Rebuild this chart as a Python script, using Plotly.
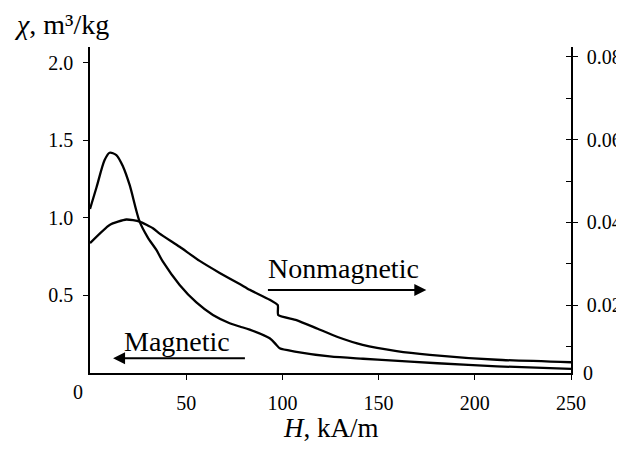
import plotly.graph_objects as go

# Magnetic fraction (left axis, chi in m^3/kg)
h_magnetic = [0, 3.4, 7.6, 10.2, 13.7, 17.2, 20.6, 25.8, 30.0, 34.5, 37.9, 46.6, 55.3, 63.9,
              72.6, 77.8, 83.0, 93.4, 96.9, 98.6, 107.3, 124.6, 141.9, 149.5, 180.6, 211.6, 250]
chi_magnetic = [1.058, 1.198, 1.374, 1.421, 1.406, 1.331, 1.213, 0.976, 0.875, 0.794, 0.718, 0.568,
                0.455, 0.374, 0.321, 0.300, 0.280, 0.224, 0.181, 0.159, 0.137, 0.107, 0.092, 0.086,
                0.063, 0.043, 0.026]

# Nonmagnetic fraction (right axis)
h_nonmagnetic = [0, 10.2, 18.9, 25.8, 32.7, 36.2, 46.6, 57.0, 67.4, 77.8, 83.0, 93.4, 97.6, 97.8,
                 107.3, 118.3, 128.7, 141.7, 159.4, 176.6, 211.6, 250]
chi_nonmagnetic = [0.0350, 0.0394, 0.0407, 0.0402, 0.0386, 0.0373, 0.0341, 0.0307, 0.0278, 0.0251,
                   0.0237, 0.0213, 0.0200, 0.0176, 0.0164, 0.0143, 0.0123, 0.0104, 0.0089, 0.0080,
                   0.0068, 0.0062]

x_ticks = [50, 100, 150, 200, 250]
left_ticks = [0.5, 1.0, 1.5, 2.0]
left_tick_text = ["0.5", "1.0", "1.5", "2.0"]
right_ticks = [0.02, 0.04, 0.06, 0.08]
right_tick_text = ["0.02", "0.04", "0.06", "0.08"]

FONT = "Liberation Serif"

fig = go.Figure()
fig.add_trace(go.Scatter(x=h_magnetic, y=chi_magnetic, mode="lines",
                         line=dict(color="black", width=2.3, shape="spline", smoothing=0.8),
                         yaxis="y", showlegend=False))
fig.add_trace(go.Scatter(x=h_nonmagnetic, y=chi_nonmagnetic, mode="lines",
                         line=dict(color="black", width=2.3, shape="spline", smoothing=0.5),
                         yaxis="y2", showlegend=False))

axis_common = dict(showline=True, linecolor="black", linewidth=1.6, showgrid=False,
                   zeroline=False, ticks="outside", ticklen=5, tickwidth=1.4, tickcolor="black",
                   automargin=False,
                   tickfont=dict(family=FONT, size=20, color="black"))

# the page body has an 8px default margin, so the figure is 8px smaller
fig.update_layout(
    width=616, height=441,
    margin=dict(l=82, r=53, t=39, b=76),
    paper_bgcolor="white", plot_bgcolor="white",
    font=dict(family=FONT, color="black"),
    xaxis=dict(range=[0, 250], tickvals=x_ticks, ticktext=[str(v) for v in x_ticks],
               ticklabelstandoff=6, **axis_common),
    yaxis=dict(range=[0, 2.103], tickvals=left_ticks, ticktext=left_tick_text,
               ticklabelstandoff=6, **axis_common),
    yaxis2=dict(range=[0.0036, 0.0824], tickvals=right_ticks, ticktext=right_tick_text,
                overlaying="y", side="right", ticklabelstandoff=5,
                minor=dict(dtick=0.01, tick0=0.0, ticks="inside", ticklen=5, tickwidth=1.2,
                           tickcolor="black"),
                **axis_common),
)

annotations = [
    dict(text="<i>χ</i>, m³/kg", xref="paper", yref="paper", x=-0.162, y=1.068,
         xanchor="left", yanchor="middle", showarrow=False, font=dict(family=FONT, size=28)),
    dict(text="<i>H</i>, kA/m", xref="paper", yref="paper", x=0.501, y=-0.168,
         xanchor="center", yanchor="middle", showarrow=False, font=dict(family=FONT, size=27)),
    dict(text="0", xref="paper", yref="paper", x=-0.025, y=-0.058,
         xanchor="center", yanchor="middle", showarrow=False, font=dict(family=FONT, size=20)),
    dict(text="0", xref="paper", yref="paper", x=1.036, y=0.0,
         xanchor="center", yanchor="middle", showarrow=False, font=dict(family=FONT, size=20)),
    dict(text="Nonmagnetic", xref="x", yref="y", x=132, y=0.677,
         xanchor="center", yanchor="middle", showarrow=False, font=dict(family=FONT, size=28)),
    dict(text="Magnetic", xref="x", yref="y", x=45, y=0.206,
         xanchor="center", yanchor="middle", showarrow=False, font=dict(family=FONT, size=28)),
    # arrows
    dict(text="", xref="x", yref="y", x=174.8, y=0.535, axref="x", ayref="y",
         ax=91.7, ay=0.535, showarrow=True, arrowhead=2, arrowsize=1.2, arrowwidth=2,
         arrowcolor="black"),
    dict(text="", xref="x", yref="y", x=12.0, y=0.095, axref="x", ayref="y",
         ax=81.3, ay=0.095, showarrow=True, arrowhead=2, arrowsize=1.2, arrowwidth=2,
         arrowcolor="black"),
]
fig.update_layout(annotations=annotations)

fig.write_html(
    "out.html",
    post_script="document.documentElement.style.overflow='hidden';"
                "document.body.style.overflow='hidden';",
)
